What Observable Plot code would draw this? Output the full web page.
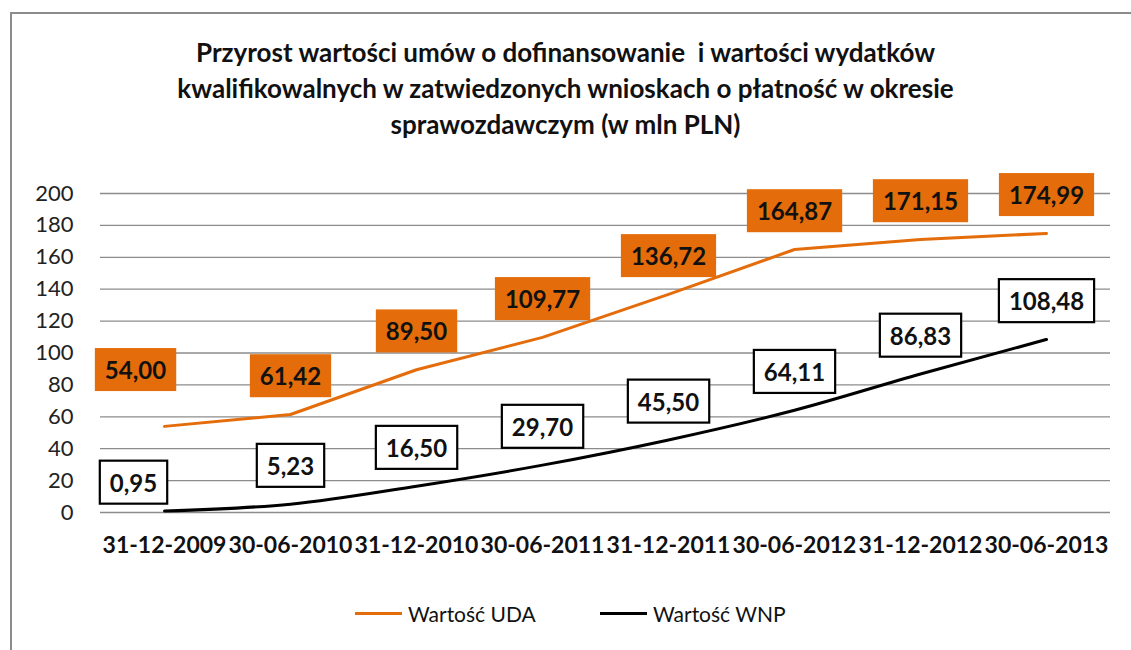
<!DOCTYPE html>
<html>
<head>
<meta charset="utf-8">
<script src="https://cdn.jsdelivr.net/npm/d3@7"></script>
<script src="https://cdn.jsdelivr.net/npm/@observablehq/plot@0.6"></script>
<style>
  html, body { margin: 0; padding: 0; background: #fff; }
  #wrap { position: relative; width: 1131px; height: 650px; overflow: hidden; font-family: Lato, "Open Sans", sans-serif; }
  #frame { position: absolute; left: 10px; top: 12px; width: 1200px; height: 700px; border-left: 2px solid #8c8c8c; border-top: 2px solid #8c8c8c; box-sizing: border-box; }
  #title { position: absolute; left: 0; width: 1131px; top: 34px; text-align: center; font-weight: bold; font-size: 26px; line-height: 36px; color: #111; }
  #chart { position: absolute; left: 0; top: 150px; }
  .legend { position: absolute; top: 601px; font-size: 21px; color: #111; display: flex; align-items: center; }
  .legend .sw { display: inline-block; width: 47px; height: 3.5px; margin-right: 6px; }
</style>
</head>
<body>
<div id="wrap">
  <div id="frame"></div>
  <div id="title">Przyrost wartości umów o dofinansowanie&nbsp; i wartości wydatków<br>kwalifikowalnych w zatwiedzonych wnioskach o płatność w okresie<br>sprawozdawczym (w mln PLN)</div>
  <div id="chart"></div>
  <div class="legend" style="left:355px"><span class="sw" style="background:#E46C0A"></span>Wartość UDA</div>
  <div class="legend" style="left:600px"><span class="sw" style="background:#000"></span>Wartość WNP</div>
</div>
<script>
const dates = ["31-12-2009", "30-06-2010", "31-12-2010", "30-06-2011", "31-12-2011", "30-06-2012", "31-12-2012", "30-06-2013"];
const uda = [54.00, 61.42, 89.50, 109.77, 136.72, 164.87, 171.15, 174.99];
const wnp = [0.95, 5.23, 16.50, 29.70, 45.50, 64.11, 86.83, 108.48];
const yTicks = [0, 20, 40, 60, 80, 100, 120, 140, 160, 180, 200];

const ORANGE = "#E46C0A";
const fmt = v => v.toFixed(2).replace(".", ",");
const rowsU = dates.map((d, i) => ({date: d, value: uda[i], i}));
const rowsW = dates.map((d, i) => ({date: d, value: wnp[i], i}));

const labelStyle = {x: "date", y: "value", text: d => fmt(d.value), fontSize: 24, fontWeight: "bold", fill: "#111", lineAnchor: "middle"};

const chart = Plot.plot({
  width: 1131,
  height: 420,
  marginTop: 43,
  marginBottom: 58,
  marginLeft: 100,
  marginRight: 21,
  style: {fontFamily: "Lato, 'Open Sans', sans-serif", background: "transparent", overflow: "visible"},
  x: {type: "point", domain: dates, padding: 0.5, label: null},
  y: {domain: [0, 200], label: null},
  marks: [
    Plot.gridY(yTicks, {stroke: "#8c8c8c", strokeOpacity: 1, strokeWidth: 1.3}),
    Plot.axisY(yTicks, {tickSize: 0, tickPadding: 27, fontSize: 22, fill: "#222", label: null}),
    Plot.axisX({tickSize: 0, tickPadding: 24, fontSize: 23, fontWeight: "bold", fill: "#111", label: null}),
    Plot.line(rowsU, {x: "date", y: "value", stroke: ORANGE, strokeWidth: 3}),
    Plot.line(rowsW, {x: "date", y: "value", stroke: "#000", strokeWidth: 3, curve: "monotone-x"}),
    Plot.text(rowsU.filter(d => d.i === 0), {...labelStyle, dx: -29, dy: -55, className: "lab-uda"}),
    Plot.text(rowsU.filter(d => d.i > 0), {...labelStyle, dy: -37, className: "lab-uda"}),
    Plot.text(rowsW.filter(d => d.i === 0), {...labelStyle, dx: -31, dy: -27, className: "lab-wnp"}),
    Plot.text(rowsW.filter(d => d.i > 0), {...labelStyle, dy: -37, className: "lab-wnp"})
  ]
});
document.getElementById("chart").appendChild(chart);

// draw label boxes behind the label texts
function boxes(cls, fill, stroke) {
  chart.querySelectorAll("g." + cls + " text").forEach(t => {
    const bb = t.getBBox();
    const r = document.createElementNS("http://www.w3.org/2000/svg", "rect");
    const padX = 10, padY = 7;
    r.setAttribute("x", bb.x - padX);
    r.setAttribute("y", bb.y - padY);
    r.setAttribute("width", bb.width + 2 * padX);
    r.setAttribute("height", bb.height + 2 * padY);
    r.setAttribute("fill", fill);
    if (stroke) { r.setAttribute("stroke", stroke); r.setAttribute("stroke-width", 2.2); }
    const tr = t.getAttribute("transform");
    if (tr) r.setAttribute("transform", tr);
    t.parentNode.insertBefore(r, t);
  });
}
boxes("lab-uda", ORANGE, null);
boxes("lab-wnp", "#fff", "#000");
</script>
</body>
</html>
